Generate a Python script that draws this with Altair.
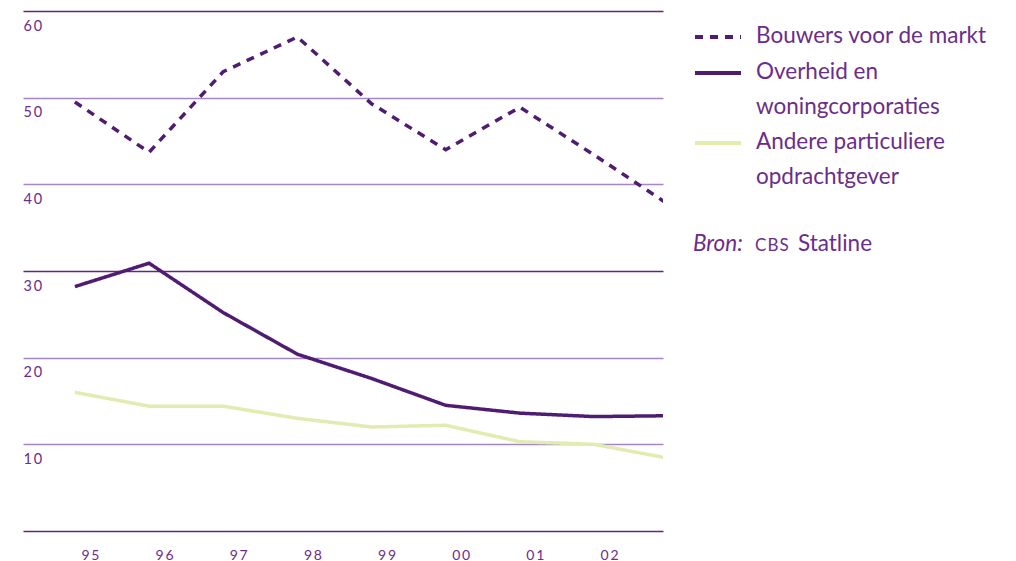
import altair as alt
import pandas as pd

years = [1995, 1996, 1997, 1998, 1999, 2000, 2001, 2002, 2003]
bouwers = [49.5, 43.7, 53.0, 57.0, 49.3, 44.0, 48.9, 43.4, 37.7]
overheid = [28.2, 30.9, 25.2, 20.4, 17.6, 14.5, 13.6, 13.2, 13.3]
andere = [16.0, 14.4, 14.4, 13.0, 12.0, 12.2, 10.3, 10.0, 8.4]

series = ["Bouwers voor de markt", "Overheid en|woningcorporaties", "Andere particuliere|opdrachtgever"]
colors = ["#4f1c72", "#4f1c72", "#e1ecb0"]
dashes = [[8, 7], [1, 0], [1, 0]]

rows = []
for name, vals in zip(series, [bouwers, overheid, andere]):
    for y, v in zip(years, vals):
        rows.append({"jaar": y, "waarde": v, "reeks": name})
df = pd.DataFrame(rows)

TEXT = "#6a2d8a"
FONT = "Lato"
DY = 6

lines = alt.Chart(df).mark_line(strokeWidth=3.5, clip=True).encode(
    x=alt.X("jaar:Q", scale=alt.Scale(domain=[1994.3, 2002.93], nice=False, zero=False),
            axis=alt.Axis(values=years[:-1], title=None, grid=False, domain=False, ticks=False,
                          labelExpr="join(split(substring(toString(datum.value), 2), ''), '\u2009')",
                          labelPadding=17 - DY, labelBaseline="top", labelFontSize=14,
                          labelOffset=15,
                          labelColor=TEXT, labelFont=FONT)),
    y=alt.Y("waarde:Q", scale=alt.Scale(domain=[0, 60], nice=False),
            axis=alt.Axis(values=[0, 10, 20, 30, 40, 50, 60], title=None, domain=False, ticks=False,
                          labelExpr="datum.value == 0 ? '' : join(split(datum.label, ''), '\u2009')",
                          labelAlign="left", labelBaseline="top", labelPadding=0, labelOffset=8 - DY,
                          labelFontSize=14.5, labelColor=TEXT, labelFont=FONT,
                          gridColor={"condition": {"test": "datum.value % 30 == 0", "value": "#5b2a80"},
                                     "value": "#a686c4"},
                          gridWidth=1.5)),
    color=alt.Color("reeks:N", scale=alt.Scale(domain=series, range=colors),
                    legend=alt.Legend(title=None, orient="none", legendX=670, legendY=1,
                                      symbolType="stroke", symbolSize=2116, symbolStrokeWidth=4,
                                      labelFontSize=22.5, labelColor=TEXT, labelFont=FONT,
                                      labelOffset=13, labelLimit=400, rowPadding=0,
                                      labelBaseline="alphabetic",
                                      labelExpr="split(datum.label, '|')")),
    strokeDash=alt.StrokeDash("reeks:N", scale=alt.Scale(domain=series, range=dashes), legend=None),
    detail="reeks:N",
)

src = pd.DataFrame({"t": ["Bron:"]})
bron1 = alt.Chart(src).mark_text(align="left", baseline="alphabetic", fontSize=22.5, fontStyle="italic",
                                 font=FONT, color=TEXT).encode(text="t:N", x=alt.value(670), y=alt.value(240))
src2 = pd.DataFrame({"t": ["C\u200aB\u200aS"]})
bron2 = alt.Chart(src2).mark_text(align="left", baseline="alphabetic", fontSize=17,
                                  font=FONT, color=TEXT).encode(text="t:N", x=alt.value(732), y=alt.value(240))
src3 = pd.DataFrame({"t": ["Statline"]})
bron3 = alt.Chart(src3).mark_text(align="left", baseline="alphabetic", fontSize=22.5,
                                  font=FONT, color=TEXT).encode(text="t:N", x=alt.value(775), y=alt.value(240))

chart = alt.layer(lines, bron1, bron2, bron3).properties(
    width=640, height=520,
    autosize=alt.AutoSizeParams(type="none"),
    padding={"left": 15, "top": 3, "right": 345, "bottom": 30},
).configure(
    view=alt.ViewConfig(stroke=None),
    style={"guide-label": {"lineHeight": 34.5, "dy": DY}},
)

chart.save("out.html", embed_options={"renderer": "svg", "actions": False})
